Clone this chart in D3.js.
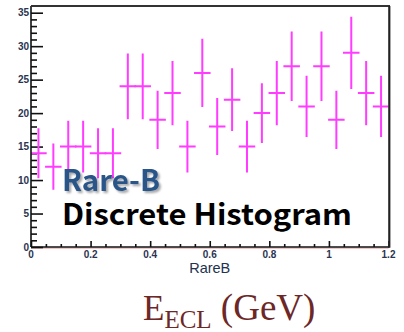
<!DOCTYPE html>
<html>
<head>
<meta charset="utf-8">
<script src="https://cdn.jsdelivr.net/npm/d3@7"></script>
<style>
  html, body { margin: 0; padding: 0; background: #fff; }
  svg { display: block; }
</style>
</head>
<body>
<svg id="chart" width="404" height="332"></svg>
<script>
// Histogram of RareB: 24 bins of width 0.05 from 0 to 1.2
const binLowEdges = [0.00, 0.05, 0.10, 0.15, 0.20, 0.25, 0.30, 0.35, 0.40, 0.45, 0.50, 0.55,
                     0.60, 0.65, 0.70, 0.75, 0.80, 0.85, 0.90, 0.95, 1.00, 1.05, 1.10, 1.15];
const binWidth = 0.05;
const counts = [14, 12, 15, 15, 14, 14, 24, 24, 19, 23, 15, 26,
                18, 22, 15, 20, 23, 27, 21, 27, 19, 29, 23, 21];
const xTickValues = [0, 0.2, 0.4, 0.6, 0.8, 1, 1.2];
const xTickLabels = ["0", "0.2", "0.4", "0.6", "0.8", "1", "1.2"];
const yTickValues = [0, 5, 10, 15, 20, 25, 30, 35];
const yTickLabels = ["0", "5", "10", "15", "20", "25", "30", "35"];

const svg = d3.select("#chart");
const frame = { left: 31, right: 388.5, top: 6, bottom: 247 };

const x = d3.scaleLinear().domain([0, 1.2]).range([frame.left, frame.right]);
const y = d3.scaleLinear().domain([0, 36]).range([frame.bottom, frame.top]);

const defs = svg.append("defs");
defs.append("clipPath").attr("id", "plotClip")
  .append("rect")
  .attr("x", frame.left).attr("y", frame.top)
  .attr("width", frame.right - frame.left).attr("height", frame.bottom - frame.top);

const shadow = defs.append("filter").attr("id", "titleShadow")
  .attr("x", "-10%").attr("y", "-20%").attr("width", "130%").attr("height", "160%");
shadow.append("feDropShadow")
  .attr("dx", 2).attr("dy", 2).attr("stdDeviation", 1.3)
  .attr("flood-color", "#000").attr("flood-opacity", 0.35);

// baseline tint under the x axis
svg.append("line")
  .attr("x1", frame.left).attr("x2", frame.right)
  .attr("y1", frame.bottom + 1.2).attr("y2", frame.bottom + 1.2)
  .attr("stroke", "#f0a8a8").attr("stroke-width", 1);

// axes: major ticks with labels, minor ticks without
const yAxisMajor = d3.axisRight(y).tickValues(yTickValues).tickSize(12).tickFormat("");
const yAxisMinor = d3.axisRight(y).tickValues(d3.range(0, 36, 1).filter(v => v % 5 !== 0)).tickSize(6).tickFormat("");
const xAxisMajor = d3.axisTop(x).tickValues(xTickValues).tickSize(6).tickFormat("");
const xAxisMinor = d3.axisTop(x).tickValues(d3.range(0, 24).map(i => i * 0.05).filter((v, i) => i % 4 !== 0)).tickSize(3).tickFormat("");

function styleAxis(g) {
  g.select(".domain").remove();
  g.selectAll(".tick line").attr("stroke", "#111").attr("stroke-width", 1.6);
}
svg.append("g").attr("transform", `translate(${frame.left},0)`).call(yAxisMajor).call(styleAxis);
svg.append("g").attr("transform", `translate(${frame.left},0)`).call(yAxisMinor).call(styleAxis);
svg.append("g").attr("transform", `translate(0,${frame.bottom})`).call(xAxisMajor).call(styleAxis);
svg.append("g").attr("transform", `translate(0,${frame.bottom})`).call(xAxisMinor).call(styleAxis);

// tick labels
svg.append("g").selectAll("text").data(yTickValues).join("text")
  .attr("x", 29).attr("y", d => y(d) + 3.6)
  .attr("text-anchor", "end")
  .attr("font-family", "Liberation Sans, Arial, sans-serif")
  .attr("font-weight", "bold").attr("font-size", 10)
  .attr("fill", "#2a3450")
  .text((d, i) => yTickLabels[i]);

svg.append("g").selectAll("text").data(xTickValues).join("text")
  .attr("x", d => x(d)).attr("y", 258)
  .attr("text-anchor", "middle")
  .attr("font-family", "Liberation Sans, Arial, sans-serif")
  .attr("font-weight", "bold").attr("font-size", 10)
  .attr("fill", "#2a3450")
  .text((d, i) => xTickLabels[i]);

// axis title
svg.append("text")
  .attr("x", (frame.left + frame.right) / 2).attr("y", 273)
  .attr("text-anchor", "middle")
  .attr("font-family", "Liberation Sans, Arial, sans-serif")
  .attr("font-size", 14.5)
  .attr("fill", "#23324f")
  .text("RareB");

// error bars: vertical ±sqrt(N), horizontal across the bin
const bars = svg.append("g").attr("clip-path", "url(#plotClip)")
  .attr("stroke", "#ff3cff").attr("stroke-width", 2).attr("fill", "none");

const bins = binLowEdges.map((lo, i) => ({ lo, hi: lo + binWidth, n: counts[i], err: Math.sqrt(counts[i]) }));

bars.selectAll("line.v").data(bins).join("line").attr("class", "v")
  .attr("x1", d => x(d.lo + binWidth / 2)).attr("x2", d => x(d.lo + binWidth / 2))
  .attr("y1", d => y(d.n - d.err)).attr("y2", d => y(d.n + d.err));

bars.selectAll("line.h").data(bins).join("line").attr("class", "h")
  .attr("x1", d => x(d.lo) - 0.8).attr("x2", d => x(d.hi) + 0.8)
  .attr("y1", d => y(d.n)).attr("y2", d => y(d.n));

// frame
svg.append("line").attr("x1", frame.left).attr("x2", frame.left)
  .attr("y1", frame.top).attr("y2", frame.bottom)
  .attr("stroke", "#111").attr("stroke-width", 1.6);
svg.append("line").attr("x1", frame.left).attr("x2", frame.right + 1)
  .attr("y1", frame.bottom).attr("y2", frame.bottom)
  .attr("stroke", "#111").attr("stroke-width", 1.4);
svg.append("line").attr("x1", frame.left).attr("x2", frame.right + 1.5)
  .attr("y1", frame.top).attr("y2", frame.top)
  .attr("stroke", "#333").attr("stroke-width", 1.8);
svg.append("line").attr("x1", frame.right + 0.8).attr("x2", frame.right + 0.8)
  .attr("y1", frame.top).attr("y2", frame.bottom + 0.7)
  .attr("stroke", "#222").attr("stroke-width", 2.2);

// overlaid captions
svg.append("text")
  .attr("x", 62).attr("y", 190.5)
  .attr("font-family", "Noto Sans CJK KR, Noto Sans, sans-serif")
  .attr("font-weight", "bold").attr("font-size", 29)
  .attr("fill", "#2b5588")
  .attr("filter", "url(#titleShadow)")
  .attr("textLength", 98).attr("lengthAdjust", "spacingAndGlyphs")
  .text("Rare-B");

svg.append("text")
  .attr("x", 62).attr("y", 225)
  .attr("font-family", "Noto Sans CJK KR, Noto Sans, sans-serif")
  .attr("font-weight", "bold").attr("font-size", 29)
  .attr("fill", "#000")
  .attr("textLength", 290).attr("lengthAdjust", "spacingAndGlyphs")
  .text("Discrete Histogram");

// energy label
const eLabel = svg.append("text")
  .attr("x", 143).attr("y", 319.5)
  .attr("font-family", "Liberation Serif, Times New Roman, serif")
  .attr("fill", "#6c2726");
eLabel.append("tspan").attr("font-size", 35).text("E");
eLabel.append("tspan").attr("font-size", 25).attr("dy", 8).text("ECL");
eLabel.append("tspan").attr("font-size", 37).attr("dy", -8).text(" (GeV)");
</script>
</body>
</html>
